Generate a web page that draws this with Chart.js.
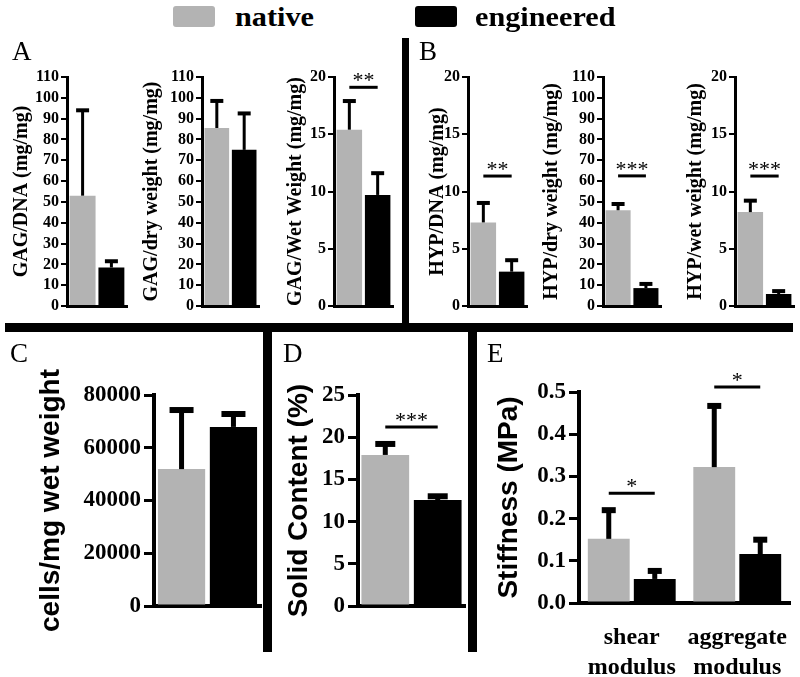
<!DOCTYPE html>
<html>
<head>
<meta charset="utf-8">
<script src="https://cdn.jsdelivr.net/npm/chart.js@4.4.0/dist/chart.umd.min.js"></script>
<style>
	body { margin: 0; background: #fff; }
	#figure { position: relative; width: 800px; height: 677px; overflow: hidden; background: #fff; }
	#figure canvas { position: absolute; }
	.rule { position: absolute; background: #000; z-index: 2; }
	.letter { position: absolute; font-family: 'Liberation Serif', 'Times New Roman', serif; font-size: 27px; line-height: 1; color: #000; }
	.legend-box { position: absolute; top: 6px; width: 42px; height: 21px; border-radius: 3px; }
	.legend-text { position: absolute; top: 4px; font: bold 27px/1 'Liberation Serif', 'Times New Roman', serif; color: #000; transform: scaleX(1.12); transform-origin: left top; }
</style>
</head>
<body>
<div id="figure"></div>
<script>
const seriesNames = ['native', 'engineered'];
const seriesColors = ['#b3b3b3', '#000000'];

// y tick values
const ticks110 = [0, 10, 20, 30, 40, 50, 60, 70, 80, 90, 100, 110];
const ticks20 = [0, 5, 10, 15, 20];
const ticksCells = [0, 20000, 40000, 60000, 80000];
const ticksSolid = [0, 5, 10, 15, 20, 25];
const ticksStiff = [0, 0.1, 0.2, 0.3, 0.4, 0.5];

// A: GAG, [native, engineered]
const gagDnaMean = [53, 18.5];
const gagDnaSd = [41, 3];
const gagDryMean = [85.5, 75];
const gagDrySd = [13, 17.5];
const gagWetMean = [15.4, 9.7];
const gagWetSd = [2.5, 1.9];
const gagWetSig = [19.1, '**'];

// B: HYP
const hypDnaMean = [7.3, 3.0];
const hypDnaSd = [1.7, 1.0];
const hypDnaSig = [11.35, '**'];
const hypDryMean = [46, 8.6];
const hypDrySd = [3, 2];
const hypDrySig = [62.5, '***'];
const hypWetMean = [8.2, 1.05];
const hypWetSd = [1.0, 0.25];
const hypWetSig = [11.35, '***'];

// C, D
const cellsMean = [51900, 67900];
const cellsSd = [22400, 4900];
const solidMean = [17.9, 12.55];
const solidSd = [1.3, 0.45];
const solidSig = [21.2, '***'];

// E
const stiffCategories = [['shear', 'modulus'], ['aggregate', 'modulus']];
const stiffNativeMean = [0.152, 0.322];
const stiffNativeSd = [0.068, 0.145];
const stiffEngMean = [0.057, 0.116];
const stiffEngSd = [0.019, 0.034];
const stiffSig = [[0.26, '*'], [0.512, '*']];

const serif = "'Liberation Serif', 'Times New Roman', serif";
const sans = "'Liberation Sans', Arial, sans-serif";
const figure = document.getElementById('figure');

const errorBars = {
	id: 'errorBars',
	afterDatasetsDraw(chart, args, opts) {
		const { ctx } = chart;
		const yScale = chart.scales.y;
		chart.data.datasets.forEach((ds, i) => {
			chart.getDatasetMeta(i).data.forEach((bar, j) => {
				const top = yScale.getPixelForValue(ds.data[j] + ds.errors[j]);
				ctx.save();
				ctx.strokeStyle = '#000';
				ctx.lineWidth = opts.width;
				ctx.beginPath();
				ctx.moveTo(bar.x, bar.y);
				ctx.lineTo(bar.x, top);
				ctx.stroke();
				ctx.lineWidth = opts.width + 1;
				ctx.beginPath();
				ctx.moveTo(bar.x - opts.cap / 2, top);
				ctx.lineTo(bar.x + opts.cap / 2, top);
				ctx.stroke();
				ctx.restore();
			});
		});
	}
};

const sigMarks = {
	id: 'sigMarks',
	afterDraw(chart, args, opts) {
		const { ctx } = chart;
		const yScale = chart.scales.y;
		(opts.items || []).forEach((item, k) => {
			if (!item) return;
			const a = chart.getDatasetMeta(0).data[k];
			const b = chart.getDatasetMeta(1).data[k];
			const py = yScale.getPixelForValue(item[0]);
			ctx.save();
			ctx.strokeStyle = '#000';
			ctx.lineWidth = 3;
			ctx.beginPath();
			ctx.moveTo(a.x, py);
			ctx.lineTo(b.x, py);
			ctx.stroke();
			ctx.fillStyle = '#000';
			ctx.font = '22px ' + serif;
			ctx.textAlign = 'center';
			ctx.textBaseline = 'alphabetic';
			ctx.fillText(item[1], (a.x + b.x) / 2, py);
			ctx.restore();
		});
	}
};

function makeChart(o) {
	const [left, top, width, height] = o.box;
	const canvas = document.createElement('canvas');
	canvas.width = width;
	canvas.height = height;
	canvas.style.left = left + 'px';
	canvas.style.top = top + 'px';
	canvas.style.width = width + 'px';
	canvas.style.height = height + 'px';
	figure.appendChild(canvas);

	const big = !!o.big;
	new Chart(canvas, {
		type: 'bar',
		data: {
			labels: o.labels || [''],
			datasets: seriesNames.map((name, i) => ({
				label: name,
				data: o.means[i],
				errors: o.errs[i],
				backgroundColor: seriesColors[i],
				borderWidth: 0,
				categoryPercentage: o.catPct,
				barPercentage: o.barPct
			}))
		},
		options: {
			responsive: false,
			animation: false,
			layout: { padding: { top: o.padTop, right: 4, bottom: 0, left: 0 } },
			plugins: {
				legend: { display: false },
				tooltip: { enabled: false },
				errorBars: { width: big ? 5 : 3, cap: o.cap },
				sigMarks: { items: o.sig || [] }
			},
			scales: {
				x: {
					afterFit: (s) => {
						s.height = o.xHeight;
						s.paddingLeft = 0;
						s.paddingRight = 0;
					},
					grid: { display: false, drawTicks: false },
					border: { display: true, color: '#000', width: big ? 4 : 3 },
					ticks: {
						display: !!o.labels,
						color: '#000',
						font: { family: serif, size: 24, weight: 'bold', lineHeight: 1.25 },
						padding: 20,
						maxRotation: 0,
						autoSkip: false
					}
				},
				y: {
					min: 0,
					max: o.ticks[o.ticks.length - 1],
					afterBuildTicks: (s) => { s.ticks = o.ticks.map((v) => ({ value: v })); },
					afterFit: (s) => { s.width = o.yWidth; },
					border: { display: true, color: '#000', width: big ? 4 : 3 },
					grid: {
						drawOnChartArea: false,
						drawTicks: true,
						tickLength: big ? 10 : 6,
						color: '#000',
						lineWidth: big ? 3 : 2
					},
					ticks: {
						autoSkip: false,
						color: '#000',
						padding: big ? 3 : 2,
						font: { family: serif, size: big ? 23 : 16, weight: 'bold' },
						callback: o.fmt || ((v) => v)
					},
					title: {
						display: true,
						text: o.title,
						color: '#000',
						padding: 0,
						font: big
							? { family: sans, size: 28, weight: 'bold' }
							: { family: serif, size: 20, weight: 'bold' }
					}
				}
			}
		},
		plugins: [errorBars, sigMarks]
	});
}

const single = (arr) => arr.map((v) => [v]);
const small = { padTop: 17, xHeight: 14, catPct: 0.96, barPct: 0.9, cap: 13 };

makeChart({ ...small, box: [10, 60, 121, 260], yWidth: 57, title: 'GAG/DNA (mg/mg)',
	ticks: ticks110, means: single(gagDnaMean), errs: single(gagDnaSd) });
makeChart({ ...small, box: [140, 60, 123, 260], yWidth: 62, title: 'GAG/dry weight (mg/mg)',
	ticks: ticks110, means: single(gagDryMean), errs: single(gagDrySd) });
makeChart({ ...small, box: [284, 60, 113, 260], yWidth: 50, title: 'GAG/Wet Weight (mg/mg)',
	ticks: ticks20, means: single(gagWetMean), errs: single(gagWetSd), sig: [gagWetSig] });
makeChart({ ...small, box: [426, 60, 105, 260], yWidth: 42, title: 'HYP/DNA (mg/mg)',
	ticks: ticks20, means: single(hypDnaMean), errs: single(hypDnaSd), sig: [hypDnaSig] });
makeChart({ ...small, box: [540, 60, 125, 260], yWidth: 63, title: 'HYP/dry weight (mg/mg)',
	ticks: ticks110, means: single(hypDryMean), errs: single(hypDrySd), sig: [hypDrySig] });
makeChart({ ...small, box: [684, 60, 114, 260], yWidth: 51, title: 'HYP/wet weight (mg/mg)',
	ticks: ticks20, means: single(hypWetMean), errs: single(hypWetSd), sig: [hypWetSig] });

makeChart({ big: true, box: [34, 360, 231, 285], padTop: 35, xHeight: 39, yWidth: 120,
	catPct: 0.97, barPct: 0.91, cap: 24, title: 'cells/mg wet weight',
	ticks: ticksCells, means: single(cellsMean), errs: single(cellsSd) });
makeChart({ big: true, box: [282, 360, 187, 285], padTop: 35, xHeight: 39, yWidth: 76,
	catPct: 0.98, barPct: 0.91, cap: 20, title: 'Solid Content (%)',
	ticks: ticksSolid, means: single(solidMean), errs: single(solidSd), sig: [solidSig] });
makeChart({ big: true, box: [492, 360, 302, 317], padTop: 32, xHeight: 74, yWidth: 87,
	catPct: 0.872, barPct: 0.91, cap: 14, title: 'Stiffness (MPa)',
	labels: stiffCategories, ticks: ticksStiff, fmt: (v) => v.toFixed(1),
	means: [stiffNativeMean, stiffEngMean], errs: [stiffNativeSd, stiffEngSd], sig: stiffSig });

// dividers
[
	[5, 323, 788, 9],
	[402, 38, 7, 294],
	[263, 323, 9, 329],
	[468, 323, 9, 329]
].forEach(([l, t, w, h]) => {
	const d = document.createElement('div');
	d.className = 'rule';
	Object.assign(d.style, { left: l + 'px', top: t + 'px', width: w + 'px', height: h + 'px' });
	figure.appendChild(d);
});

// panel letters
[['A', 12, 38], ['B', 419, 38], ['C', 10, 340], ['D', 283, 340], ['E', 487, 340]].forEach(([txt, l, t]) => {
	const d = document.createElement('div');
	d.className = 'letter';
	d.textContent = txt;
	Object.assign(d.style, { left: l + 'px', top: t + 'px' });
	figure.appendChild(d);
});

// legend
[[173, 235], [415, 475]].forEach(([boxX, textX], i) => {
	const box = document.createElement('div');
	box.className = 'legend-box';
	box.style.left = boxX + 'px';
	box.style.background = seriesColors[i];
	figure.appendChild(box);
	const label = document.createElement('div');
	label.className = 'legend-text';
	label.style.left = textX + 'px';
	label.textContent = seriesNames[i];
	figure.appendChild(label);
});
</script>
</body>
</html>
